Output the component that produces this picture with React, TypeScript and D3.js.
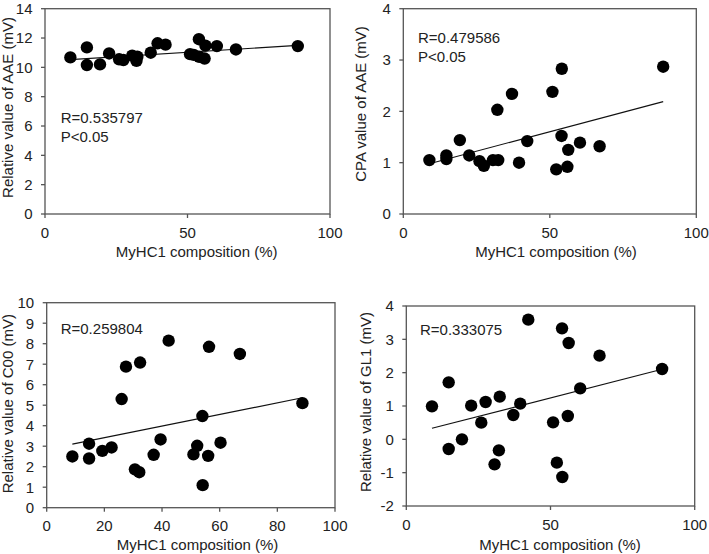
import React from "react";
import * as d3 from "d3";

// Shared x values: MyHC1 composition (%)
const myhc1: number[] = [8.9, 14.7, 14.7, 19.3, 22.5, 26.0, 27.5, 30.6, 32.1, 32.4, 37.1, 39.5, 42.3, 50.9, 52.2, 54.0, 54.1, 56.0, 56.3, 60.3, 67.0, 88.7];

// Series values per panel (same order as myhc1)
const aaeRelative: number[] = [10.68, 11.36, 10.16, 10.2, 10.95, 10.55, 10.5, 10.8, 10.45, 10.73, 11.0, 11.64, 11.55, 10.9, 10.85, 11.92, 10.72, 10.6, 11.48, 11.45, 11.22, 11.45];
const aaeCpa: number[] = [1.05, 1.14, 1.07, 1.44, 1.14, 1.03, 0.94, 1.05, 2.03, 1.05, 2.34, 1.0, 1.42, 2.38, 0.87, 1.52, 2.83, 0.92, 1.25, 1.39, 1.32, 2.87];
const c00Relative: number[] = [2.5, 3.12, 2.4, 2.77, 2.94, 5.3, 6.88, 1.87, 1.73, 7.08, 2.58, 3.33, 8.15, 2.6, 3.02, 4.47, 1.1, 2.53, 7.85, 3.17, 7.5, 5.1];
const gl1Relative: number[] = [0.99, 1.71, -0.29, 0.0, 1.01, 0.5, 1.12, -0.75, -0.33, 1.28, 0.73, 1.07, 3.59, 0.51, -0.7, 3.33, -1.13, 0.7, 2.89, 1.53, 2.51, 2.11];

// Trend line values at min and max x
const aaeRelativeTrend: number[] = [10.53, 11.5];
const aaeCpaTrend: number[] = [0.98, 2.19];
const c00Trend: number[] = [3.1, 5.36];
const gl1Trend: number[] = [0.33, 2.1];

// Tick values
const xTicksA: number[] = [0, 50, 100];
const xTicksB: number[] = [0, 20, 40, 60, 80, 100];
const yTicksAAE: number[] = [0, 2, 4, 6, 8, 10, 12, 14];
const yTicksCPA: number[] = [0, 1, 2, 3, 4];
const yTicksC00: number[] = [0, 1, 2, 3, 4, 5, 6, 7, 8, 9, 10];
const yTicksGL1: number[] = [-2, -1, 0, 1, 2, 3, 4];

// Labels
const yTitles: string[] = ["Relative value of AAE (mV)", "CPA value of AAE (mV)", "Relative value of C00 (mV)", "Relative value of GL1 (mV)"];
const xTitle = "MyHC1 composition (%)";
const statTexts: string[][] = [["R=0.535797", "P<0.05"], ["R=0.479586", "P<0.05"], ["R=0.259804"], ["R=0.333075"]];

const FONT = "'Liberation Sans', Arial, sans-serif";
const FS = 15;
const AXIS = "#555555";
const TEXT = "#222222";

type Layout = {
  left: number; right: number; top: number; bottom: number;
  xTickBase: number; xTitleX: number; xTitleBase: number;
  yTitleX: number; yTitleY: number;
  statX: number; statY: number;
};

const layouts: Layout[] = [
  { left: 45, right: 330, top: 8.7, bottom: 214, xTickBase: 238, xTitleX: 196.7, xTitleBase: 257, yTitleX: 12.5, yTitleY: 107.5, statX: 60.7, statY: 123 },
  { left: 403.3, right: 696.3, top: 8.7, bottom: 214, xTickBase: 238, xTitleX: 556, xTitleBase: 257, yTitleX: 366.3, yTitleY: 104, statX: 418, statY: 42.7 },
  { left: 46.7, right: 335, top: 302.7, bottom: 507.7, xTickBase: 530.5, xTitleX: 197.5, xTitleBase: 549.5, yTitleX: 12.5, yTitleY: 403.7, statX: 60.7, statY: 334.3 },
  { left: 406.3, right: 694.7, top: 306, bottom: 506, xTickBase: 530, xTitleX: 560, xTitleBase: 549.5, yTitleX: 370.5, yTitleY: 402, statX: 420, statY: 334.7 },
];

const panelYs = [aaeRelative, aaeCpa, c00Relative, gl1Relative];
const panelTrends = [aaeRelativeTrend, aaeCpaTrend, c00Trend, gl1Trend];
const panelYTicks = [yTicksAAE, yTicksCPA, yTicksC00, yTicksGL1];
const panelXTicks = [xTicksA, xTicksA, xTicksB, xTicksA];

function Panel({ i }: { i: number }) {
  const L = layouts[i];
  const yTicks = panelYTicks[i];
  const xTicks = panelXTicks[i];
  const x = d3.scaleLinear().domain([0, 100]).range([L.left, L.right]);
  const y = d3.scaleLinear().domain([yTicks[0], yTicks[yTicks.length - 1]]).range([L.bottom, L.top]);
  const ys = panelYs[i];
  const trend = panelTrends[i];
  const xMin = d3.min(myhc1) as number;
  const xMax = d3.max(myhc1) as number;
  const line = d3.line<[number, number]>().x((d) => x(d[0])).y((d) => y(d[1]));
  const trendPath = line([[xMin, trend[0]], [xMax, trend[1]]]) || "";
  return (
    <g>
      <rect x={L.left} y={L.top} width={L.right - L.left} height={L.bottom - L.top} fill="none" stroke={AXIS} strokeWidth={1.3} />
      {yTicks.map((t) => (
        <g key={"y" + t}>
          <line x1={L.left - 4} x2={L.left} y1={y(t)} y2={y(t)} stroke={AXIS} strokeWidth={1.3} />
          <text x={L.left - 12.5} y={y(t)} dy="0.36em" textAnchor="end" fontSize={FS} fontFamily={FONT} fill={TEXT}>{t}</text>
        </g>
      ))}
      {xTicks.map((t) => (
        <g key={"x" + t}>
          <line x1={x(t)} x2={x(t)} y1={L.bottom} y2={L.bottom + 4} stroke={AXIS} strokeWidth={1.3} />
          <text x={x(t)} y={L.xTickBase} textAnchor="middle" fontSize={FS} fontFamily={FONT} fill={TEXT}>{t}</text>
        </g>
      ))}
      <path d={trendPath} stroke="#111" strokeWidth={1.1} fill="none" />
      {myhc1.map((xv, k) => (
        <circle key={k} cx={x(xv)} cy={y(ys[k])} r={6.2} fill="#000" />
      ))}
      {statTexts[i].map((s, k) => (
        <text key={s} x={L.statX} y={L.statY + k * 19} fontSize={FS} fontFamily={FONT} fill={TEXT}>{s}</text>
      ))}
      <text x={L.xTitleX} y={L.xTitleBase} textAnchor="middle" fontSize={FS} fontFamily={FONT} fill={TEXT}>{xTitle}</text>
      <text transform={`translate(${L.yTitleX},${L.yTitleY}) rotate(-90)`} textAnchor="middle" fontSize={FS} fontFamily={FONT} fill={TEXT}>{yTitles[i]}</text>
    </g>
  );
}

export default function App() {
  return (
    <svg width={709} height={554} style={{ position: "absolute", left: 0, top: 0, background: "#fff" }}>
      <rect width={709} height={554} fill="#fff" />
      {[0, 1, 2, 3].map((i) => <Panel key={i} i={i} />)}
    </svg>
  );
}
